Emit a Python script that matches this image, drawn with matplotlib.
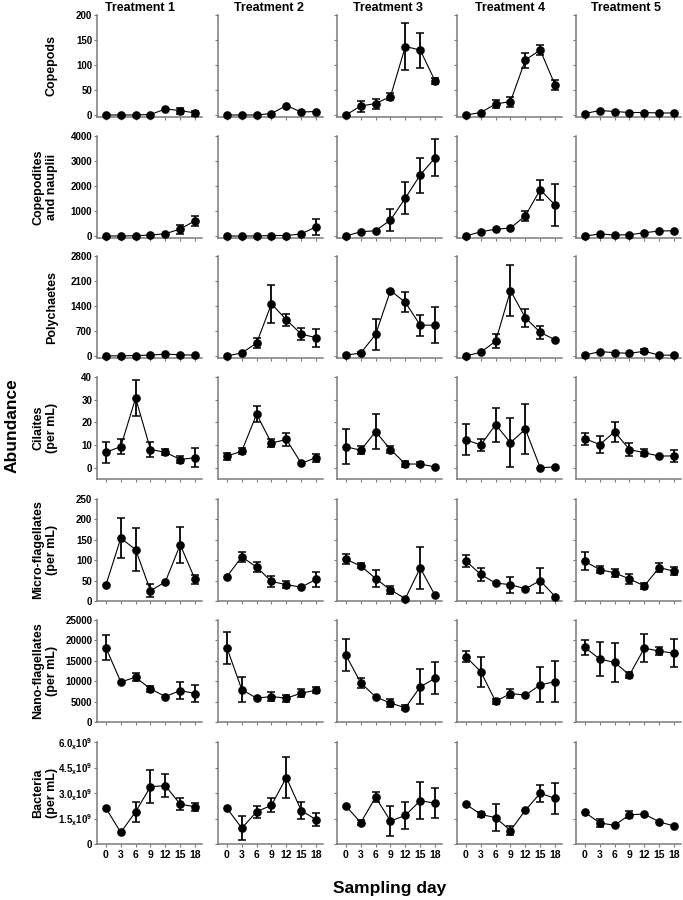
import numpy as np
import matplotlib
matplotlib.use('Agg')
import matplotlib.pyplot as plt

plt.rcParams['font.family'] = ['Liberation Sans', 'DejaVu Sans']
plt.rcParams['font.weight'] = 'bold'
plt.rcParams['mathtext.fontset'] = 'custom'
plt.rcParams['mathtext.bf'] = 'Liberation Sans:bold'
plt.rcParams['mathtext.rm'] = 'Liberation Sans:bold'
plt.rcParams['mathtext.default'] = 'bf'

days = [0, 3, 6, 9, 12, 15, 18]
treatments = ['Treatment 1', 'Treatment 2', 'Treatment 3', 'Treatment 4', 'Treatment 5']
row_labels = ['Copepods', 'Copepodites\nand nauplii', 'Polychaetes', 'Cilaites\n(per mL)',
              'Micro-flagellates\n(per mL)', 'Nano-flagellates\n(per mL)', 'Bacteria\n(per mL)']

# means / errors for each treatment (rows of lists)
cope_mean = [[0, 0, 0, 1, 12, 9, 4],
             [0, 0, 0, 3, 19, 6, 7],
             [0, 18, 23, 37, 137, 130, 68],
             [0, 5, 22, 27, 110, 130, 60],
             [3, 9, 7, 5, 5, 4, 4]]
cope_err = [[0, 0, 0, 0, 0, 6, 5],
            [0, 0, 0, 0, 0, 0, 0],
            [0, 11, 10, 7, 47, 35, 6],
            [0, 0, 8, 10, 15, 10, 10],
            [0, 0, 0, 0, 0, 0, 0]]

naup_mean = [[0, 0, 10, 40, 90, 280, 610],
             [0, 0, 0, 20, 20, 80, 370],
             [0, 170, 210, 640, 1520, 2440, 3130],
             [0, 170, 270, 320, 810, 1850, 1240],
             [0, 80, 40, 50, 130, 200, 210]]
naup_err = [[0, 0, 0, 0, 0, 180, 200],
            [0, 0, 0, 0, 0, 0, 320],
            [0, 0, 0, 450, 640, 700, 740],
            [0, 0, 0, 0, 200, 400, 850],
            [0, 0, 0, 0, 0, 0, 0]]

poly_mean = [[0, 0, 10, 20, 50, 30, 20],
             [0, 80, 360, 1460, 1010, 610, 510],
             [20, 80, 600, 1830, 1500, 860, 860],
             [0, 100, 410, 1830, 1070, 660, 450],
             [20, 120, 90, 70, 130, 20, 20]]
poly_err = [[0, 0, 0, 0, 0, 0, 0],
            [0, 0, 140, 525, 165, 170, 250],
            [0, 40, 440, 30, 280, 290, 510],
            [0, 0, 190, 720, 250, 190, 0],
            [0, 0, 0, 0, 50, 0, 0]]

cil_mean = [[6.8, 9.3, 30.7, 8.0, 6.8, 3.6, 4.4],
            [5.1, 7.3, 23.6, 10.8, 12.5, 1.9, 4.4],
            [9.2, 7.7, 15.9, 8.0, 1.6, 1.6, 0.3],
            [12.3, 10.0, 19.0, 11.0, 17.0, 0, 0.3],
            [12.8, 10.2, 15.8, 8.0, 6.6, 5.1, 5.2]]
cil_err = [[4.7, 3.4, 8.0, 3.4, 1.3, 1.5, 4.3],
           [1.5, 1.3, 3.5, 1.8, 3.0, 0, 1.7],
           [7.8, 1.8, 7.7, 1.6, 1.3, 1.0, 0],
           [6.9, 2.7, 7.5, 10.7, 11.0, 0, 0],
           [2.7, 3.8, 4.5, 2.8, 1.5, 0, 2.8]]

micro_mean = [[39, 154, 126, 25, 47, 138, 53],
              [60, 108, 83, 48, 40, 34, 53],
              [102, 86, 55, 27, 6, 81, 14],
              [98, 65, 44, 40, 30, 50, 11],
              [97, 77, 69, 54, 37, 82, 73]]
micro_err = [[0, 49, 52, 16, 0, 44, 11],
             [0, 12, 13, 13, 8, 0, 18],
             [12, 6, 20, 10, 0, 51, 0],
             [15, 15, 0, 20, 0, 30, 0],
             [22, 9, 10, 13, 8, 12, 10]]

nano_mean = [[18200, 9820, 10960, 8120, 6250, 7710, 6980],
             [18180, 7950, 5840, 6250, 5840, 7060, 7790],
             [16400, 9580, 6170, 4630, 3490, 8600, 10710],
             [15990, 12340, 5030, 6980, 6580, 9090, 9900],
             [18260, 15420, 14610, 11530, 18100, 17370, 16880]]
nano_err = [[3100, 0, 1000, 800, 0, 2100, 2100],
            [4000, 3000, 0, 1000, 900, 1000, 800],
            [3900, 1200, 0, 1000, 600, 4300, 3900],
            [1300, 3700, 700, 1000, 0, 4300, 5000],
            [1900, 4100, 4700, 800, 3500, 1000, 3500]]

# bacteria in units of 1e9 cells per mL
bact_mean = [[2.11, 0.68, 1.90, 3.37, 3.43, 2.34, 2.19],
             [2.11, 0.93, 1.90, 2.28, 3.91, 1.97, 1.43],
             [2.23, 1.26, 2.75, 1.35, 1.68, 2.55, 2.40],
             [2.34, 1.74, 1.55, 0.79, 1.99, 2.98, 2.69],
             [1.86, 1.24, 1.10, 1.72, 1.76, 1.30, 1.06]]
bact_err = [[0, 0, 0.60, 0.97, 0.66, 0.35, 0.22],
            [0, 0.72, 0.35, 0.40, 1.22, 0.52, 0.40],
            [0, 0.15, 0.30, 0.90, 0.80, 1.10, 0.87],
            [0, 0.15, 0.80, 0.25, 0, 0.50, 0.90],
            [0, 0.25, 0, 0.20, 0, 0, 0]]

means = [cope_mean, naup_mean, poly_mean, cil_mean, micro_mean, nano_mean,
         [[v * 1e9 for v in r] for r in bact_mean]]
errs = [cope_err, naup_err, poly_err, cil_err, micro_err, nano_err,
        [[v * 1e9 for v in r] for r in bact_err]]

yticks = [[0, 50, 100, 150, 200],
          [0, 1000, 2000, 3000, 4000],
          [0, 700, 1400, 2100, 2800],
          [0, 10, 20, 30, 40],
          [0, 50, 100, 150, 200, 250],
          [0, 5000, 10000, 15000, 20000, 25000],
          [0, 1.5e9, 3.0e9, 4.5e9, 6.0e9]]
ylims = [(-4, 200), (-80, 4000), (-60, 2800), (-5, 40), (0, 250), (0, 25000), (0, 6e9)]
bact_ticklabels = ['0', r'1.5$_{\mathbf{x}}$10$^{\mathbf{9}}$', r'3.0$_{\mathbf{x}}$10$^{\mathbf{9}}$',
                   r'4.5$_{\mathbf{x}}$10$^{\mathbf{9}}$', r'6.0$_{\mathbf{x}}$10$^{\mathbf{9}}$']

W, H = 683, 900
fig = plt.figure(figsize=(W / 100, H / 100), dpi=100)

lefts = [97, 218, 337, 457, 576]
tops = [15, 136, 256, 377, 499, 620, 742]
aw, ah = 105, 102
gray = '#7a7a7a'

for r in range(7):
    for c in range(5):
        ax = fig.add_axes([lefts[c] / W, 1 - (tops[r] + ah) / H, aw / W, ah / H])
        m = np.array(means[r][c], dtype=float)
        e = np.array(errs[r][c], dtype=float)
        e = np.where(e > 0, e, np.nan)
        ax.errorbar(days, m, yerr=e, color='black', lw=0.8, marker='o', ms=5.2,
                    elinewidth=1.3, capsize=3, capthick=1.1, zorder=3, clip_on=False)
        ax.set_xlim(-1.8, 19.4)
        ax.set_ylim(*ylims[r])
        ax.set_xticks(days)
        ax.set_yticks(yticks[r])
        for s in ['top', 'right']:
            ax.spines[s].set_visible(False)
        for s in ['left', 'bottom']:
            ax.spines[s].set_color(gray)
            ax.spines[s].set_linewidth(1.1)
        ax.tick_params(axis='both', direction='out', length=2.5, width=0.8, color=gray, pad=1)
        ax.tick_params(axis='x', labelsize=7.5, pad=2)
        ax.tick_params(axis='y', labelsize=7)
        if r == 6:
            ax.set_xticklabels([str(d) for d in days], fontweight='bold')
        else:
            ax.set_xticklabels([])
        if c == 0:
            if r == 6:
                ax.set_yticklabels(bact_ticklabels, fontweight='bold')
            else:
                ax.set_yticklabels([str(t) for t in yticks[r]], fontweight='bold')
        else:
            ax.set_yticklabels([])
        if r == 0:
            tx = [140, 269, 388, 510, 626][c]
            fig.text(tx / W, 1 - 8 / H, treatments[c], ha='center', va='center',
                     fontsize=9, fontweight='bold')
    fig.text(58 / W, 1 - (tops[r] + ah / 2) / H, row_labels[r], rotation=90,
             ha='right', va='center', multialignment='center', fontsize=9, fontweight='bold')

fig.text(12 / W, 1 - 426 / H, 'Abundance', rotation=90, ha='center', va='center',
         fontsize=12.5, fontweight='bold')
fig.text(390 / W, 1 - 888 / H, 'Sampling day', ha='center', va='center',
         fontsize=12.5, fontweight='bold')

fig.savefig('out.png', dpi=100)
